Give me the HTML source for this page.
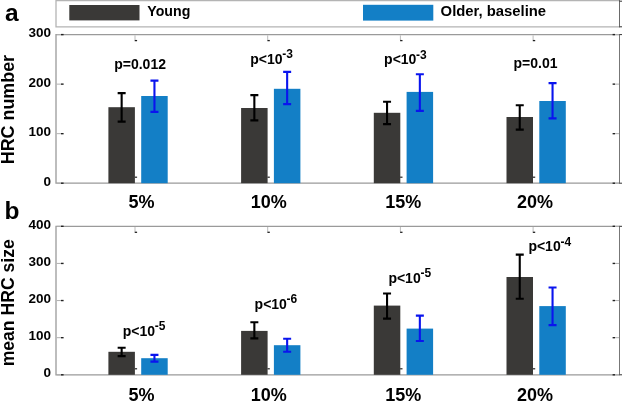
<!DOCTYPE html>
<html><head><meta charset="utf-8"><style>
html,body{margin:0;padding:0;background:#fff;width:622px;height:402px;overflow:hidden}
svg{display:block;will-change:transform}
text{font-family:"Liberation Sans", sans-serif;font-weight:bold;fill:#000}
</style></head><body>
<svg width="622" height="402" viewBox="0 0 622 402">
<rect width="622" height="402" fill="#fff"/>
<path d="M56 0.6 H619.5 M56 26.8 H619.5 M56 0 V27.4" stroke="#b4b4b4" stroke-width="1.3" fill="none"/>
<path d="M619.5 0 V27.4" stroke="#6a6a6a" stroke-width="1" fill="none"/>
<path d="M619.5 1.2 H622 M619.5 26.8 H622" stroke="#333" stroke-width="1" fill="none"/>
<rect x="69.3" y="5" width="70.2" height="15.4" fill="#3a3937"/>
<rect x="363" y="4.8" width="70.3" height="15.8" fill="#137fc6"/>
<text x="147.3" y="16" font-size="14" text-anchor="start" textLength="43" lengthAdjust="spacingAndGlyphs" >Young</text>
<text x="440.6" y="16" font-size="14" text-anchor="start" textLength="105.5" lengthAdjust="spacingAndGlyphs" >Older, baseline</text>
<path d="M56 34.6 H619.5 M56 183.2 H619.5 M56 34.0 V183.79999999999998" stroke="#9a9a9a" stroke-width="1.3" fill="none"/>
<path d="M619.5 34.1 V183.7" stroke="#777" stroke-width="1" fill="none"/>
<path d="M619.5 34.6 H622 M619.5 183.2 H622" stroke="#333" stroke-width="1" fill="none"/>
<text x="51" y="185.6" font-size="13.5" text-anchor="end" >0</text>
<line x1="56.6" y1="183.20" x2="61" y2="183.20" stroke="#b0b0b0" stroke-width="1"/>
<line x1="61" y1="183.20" x2="63.6" y2="183.20" stroke="#222" stroke-width="1.4"/>
<line x1="615" y1="183.20" x2="619" y2="183.20" stroke="#b0b0b0" stroke-width="1"/>
<line x1="612.6" y1="183.20" x2="615" y2="183.20" stroke="#222" stroke-width="1.4"/>
<text x="51" y="136.06666666666666" font-size="13.5" text-anchor="end" >100</text>
<line x1="56.6" y1="133.67" x2="61" y2="133.67" stroke="#b0b0b0" stroke-width="1"/>
<line x1="61" y1="133.67" x2="63.6" y2="133.67" stroke="#222" stroke-width="1.4"/>
<line x1="615" y1="133.67" x2="619" y2="133.67" stroke="#b0b0b0" stroke-width="1"/>
<line x1="612.6" y1="133.67" x2="615" y2="133.67" stroke="#222" stroke-width="1.4"/>
<text x="51" y="86.53333333333333" font-size="13.5" text-anchor="end" >200</text>
<line x1="56.6" y1="84.13" x2="61" y2="84.13" stroke="#b0b0b0" stroke-width="1"/>
<line x1="61" y1="84.13" x2="63.6" y2="84.13" stroke="#222" stroke-width="1.4"/>
<line x1="615" y1="84.13" x2="619" y2="84.13" stroke="#b0b0b0" stroke-width="1"/>
<line x1="612.6" y1="84.13" x2="615" y2="84.13" stroke="#222" stroke-width="1.4"/>
<text x="51" y="36.99999999999999" font-size="13.5" text-anchor="end" >300</text>
<line x1="56.6" y1="34.60" x2="61" y2="34.60" stroke="#b0b0b0" stroke-width="1"/>
<line x1="61" y1="34.60" x2="63.6" y2="34.60" stroke="#222" stroke-width="1.4"/>
<line x1="615" y1="34.60" x2="619" y2="34.60" stroke="#b0b0b0" stroke-width="1"/>
<line x1="612.6" y1="34.60" x2="615" y2="34.60" stroke="#222" stroke-width="1.4"/>
<line x1="135.00" y1="35.300000000000004" x2="135.00" y2="40.1" stroke="#bbb" stroke-width="1"/>
<line x1="134.70" y1="40.6" x2="137.10" y2="40.6" stroke="#222" stroke-width="1.3"/>
<line x1="134.70" y1="177.2" x2="137.10" y2="177.2" stroke="#222" stroke-width="1.2"/>
<line x1="267.70" y1="35.300000000000004" x2="267.70" y2="40.1" stroke="#bbb" stroke-width="1"/>
<line x1="267.40" y1="40.6" x2="269.80" y2="40.6" stroke="#222" stroke-width="1.3"/>
<line x1="267.40" y1="177.2" x2="269.80" y2="177.2" stroke="#222" stroke-width="1.2"/>
<line x1="400.40" y1="35.300000000000004" x2="400.40" y2="40.1" stroke="#bbb" stroke-width="1"/>
<line x1="400.10" y1="40.6" x2="402.50" y2="40.6" stroke="#222" stroke-width="1.3"/>
<line x1="400.10" y1="177.2" x2="402.50" y2="177.2" stroke="#222" stroke-width="1.2"/>
<line x1="533.10" y1="35.300000000000004" x2="533.10" y2="40.1" stroke="#bbb" stroke-width="1"/>
<line x1="532.80" y1="40.6" x2="535.20" y2="40.6" stroke="#222" stroke-width="1.3"/>
<line x1="532.80" y1="177.2" x2="535.20" y2="177.2" stroke="#222" stroke-width="1.2"/>
<rect x="108.40" y="107.2" width="26.5" height="76.00" fill="#3a3937"/>
<rect x="141.20" y="96.0" width="26.5" height="87.20" fill="#137fc6"/>
<path d="M121.65 93.1 V121.6 M117.65 93.1 H125.65 M117.65 121.6 H125.65" stroke="#000" stroke-width="2.1" fill="none"/>
<path d="M154.45 80.6 V111.9 M150.45 80.6 H158.45 M150.45 111.9 H158.45" stroke="#0a14ee" stroke-width="2.1" fill="none"/>
<rect x="241.10" y="108.0" width="26.5" height="75.20" fill="#3a3937"/>
<rect x="273.90" y="88.8" width="26.5" height="94.40" fill="#137fc6"/>
<path d="M254.35 95.1 V120.4 M250.35 95.1 H258.35 M250.35 120.4 H258.35" stroke="#000" stroke-width="2.1" fill="none"/>
<path d="M287.15 71.9 V104.1 M283.15 71.9 H291.15 M283.15 104.1 H291.15" stroke="#0a14ee" stroke-width="2.1" fill="none"/>
<rect x="373.80" y="112.8" width="26.5" height="70.40" fill="#3a3937"/>
<rect x="406.60" y="91.9" width="26.5" height="91.30" fill="#137fc6"/>
<path d="M387.05 101.8 V124.1 M383.05 101.8 H391.05 M383.05 124.1 H391.05" stroke="#000" stroke-width="2.1" fill="none"/>
<path d="M419.85 74.3 V110.9 M415.85 74.3 H423.85 M415.85 110.9 H423.85" stroke="#0a14ee" stroke-width="2.1" fill="none"/>
<rect x="506.50" y="117.0" width="26.5" height="66.20" fill="#3a3937"/>
<rect x="539.30" y="101.0" width="26.5" height="82.20" fill="#137fc6"/>
<path d="M519.75 105.2 V129.6 M515.75 105.2 H523.75 M515.75 129.6 H523.75" stroke="#000" stroke-width="2.1" fill="none"/>
<path d="M552.55 83.1 V118.4 M548.55 83.1 H556.55 M548.55 118.4 H556.55" stroke="#0a14ee" stroke-width="2.1" fill="none"/>
<text x="141.50" y="207.6" font-size="18" text-anchor="middle">5%</text>
<text x="268.70" y="207.6" font-size="18" text-anchor="middle">10%</text>
<text x="403.30" y="207.6" font-size="18" text-anchor="middle">15%</text>
<text x="535.00" y="207.6" font-size="18" text-anchor="middle">20%</text>
<text transform="translate(13.6 109.6) rotate(-90)" font-size="17.9" text-anchor="middle">HRC number</text>
<path d="M56 226.3 H619.5 M56 374.8 H619.5 M56 225.70000000000002 V375.40000000000003" stroke="#9a9a9a" stroke-width="1.3" fill="none"/>
<path d="M619.5 225.8 V375.3" stroke="#777" stroke-width="1" fill="none"/>
<path d="M619.5 226.3 H622 M619.5 374.8 H622" stroke="#333" stroke-width="1" fill="none"/>
<text x="51" y="377.2" font-size="13.5" text-anchor="end" >0</text>
<line x1="56.6" y1="374.80" x2="61" y2="374.80" stroke="#b0b0b0" stroke-width="1"/>
<line x1="61" y1="374.80" x2="63.6" y2="374.80" stroke="#222" stroke-width="1.4"/>
<line x1="615" y1="374.80" x2="619" y2="374.80" stroke="#b0b0b0" stroke-width="1"/>
<line x1="612.6" y1="374.80" x2="615" y2="374.80" stroke="#222" stroke-width="1.4"/>
<text x="51" y="340.075" font-size="13.5" text-anchor="end" >100</text>
<line x1="56.6" y1="337.68" x2="61" y2="337.68" stroke="#b0b0b0" stroke-width="1"/>
<line x1="61" y1="337.68" x2="63.6" y2="337.68" stroke="#222" stroke-width="1.4"/>
<line x1="615" y1="337.68" x2="619" y2="337.68" stroke="#b0b0b0" stroke-width="1"/>
<line x1="612.6" y1="337.68" x2="615" y2="337.68" stroke="#222" stroke-width="1.4"/>
<text x="51" y="302.95" font-size="13.5" text-anchor="end" >200</text>
<line x1="56.6" y1="300.55" x2="61" y2="300.55" stroke="#b0b0b0" stroke-width="1"/>
<line x1="61" y1="300.55" x2="63.6" y2="300.55" stroke="#222" stroke-width="1.4"/>
<line x1="615" y1="300.55" x2="619" y2="300.55" stroke="#b0b0b0" stroke-width="1"/>
<line x1="612.6" y1="300.55" x2="615" y2="300.55" stroke="#222" stroke-width="1.4"/>
<text x="51" y="265.825" font-size="13.5" text-anchor="end" >300</text>
<line x1="56.6" y1="263.43" x2="61" y2="263.43" stroke="#b0b0b0" stroke-width="1"/>
<line x1="61" y1="263.43" x2="63.6" y2="263.43" stroke="#222" stroke-width="1.4"/>
<line x1="615" y1="263.43" x2="619" y2="263.43" stroke="#b0b0b0" stroke-width="1"/>
<line x1="612.6" y1="263.43" x2="615" y2="263.43" stroke="#222" stroke-width="1.4"/>
<text x="51" y="228.70000000000002" font-size="13.5" text-anchor="end" >400</text>
<line x1="56.6" y1="226.30" x2="61" y2="226.30" stroke="#b0b0b0" stroke-width="1"/>
<line x1="61" y1="226.30" x2="63.6" y2="226.30" stroke="#222" stroke-width="1.4"/>
<line x1="615" y1="226.30" x2="619" y2="226.30" stroke="#b0b0b0" stroke-width="1"/>
<line x1="612.6" y1="226.30" x2="615" y2="226.30" stroke="#222" stroke-width="1.4"/>
<line x1="135.00" y1="227.0" x2="135.00" y2="231.8" stroke="#bbb" stroke-width="1"/>
<line x1="134.70" y1="232.3" x2="137.10" y2="232.3" stroke="#222" stroke-width="1.3"/>
<line x1="134.70" y1="368.8" x2="137.10" y2="368.8" stroke="#222" stroke-width="1.2"/>
<line x1="267.70" y1="227.0" x2="267.70" y2="231.8" stroke="#bbb" stroke-width="1"/>
<line x1="267.40" y1="232.3" x2="269.80" y2="232.3" stroke="#222" stroke-width="1.3"/>
<line x1="267.40" y1="368.8" x2="269.80" y2="368.8" stroke="#222" stroke-width="1.2"/>
<line x1="400.40" y1="227.0" x2="400.40" y2="231.8" stroke="#bbb" stroke-width="1"/>
<line x1="400.10" y1="232.3" x2="402.50" y2="232.3" stroke="#222" stroke-width="1.3"/>
<line x1="400.10" y1="368.8" x2="402.50" y2="368.8" stroke="#222" stroke-width="1.2"/>
<line x1="533.10" y1="227.0" x2="533.10" y2="231.8" stroke="#bbb" stroke-width="1"/>
<line x1="532.80" y1="232.3" x2="535.20" y2="232.3" stroke="#222" stroke-width="1.3"/>
<line x1="532.80" y1="368.8" x2="535.20" y2="368.8" stroke="#222" stroke-width="1.2"/>
<rect x="108.40" y="351.8" width="26.5" height="23.00" fill="#3a3937"/>
<rect x="141.20" y="358.2" width="26.5" height="16.60" fill="#137fc6"/>
<path d="M121.65 347.7 V356.1 M117.65 347.7 H125.65 M117.65 356.1 H125.65" stroke="#000" stroke-width="2.1" fill="none"/>
<path d="M154.45 354.9 V361.6 M150.45 354.9 H158.45 M150.45 361.6 H158.45" stroke="#0a14ee" stroke-width="2.1" fill="none"/>
<rect x="241.10" y="330.9" width="26.5" height="43.90" fill="#3a3937"/>
<rect x="273.90" y="345.2" width="26.5" height="29.60" fill="#137fc6"/>
<path d="M254.35 322.2 V338.4 M250.35 322.2 H258.35 M250.35 338.4 H258.35" stroke="#000" stroke-width="2.1" fill="none"/>
<path d="M287.15 338.7 V351.8 M283.15 338.7 H291.15 M283.15 351.8 H291.15" stroke="#0a14ee" stroke-width="2.1" fill="none"/>
<rect x="373.80" y="305.6" width="26.5" height="69.20" fill="#3a3937"/>
<rect x="406.60" y="328.6" width="26.5" height="46.20" fill="#137fc6"/>
<path d="M387.05 293.5 V318.6 M383.05 293.5 H391.05 M383.05 318.6 H391.05" stroke="#000" stroke-width="2.1" fill="none"/>
<path d="M419.85 315.6 V341.0 M415.85 315.6 H423.85 M415.85 341.0 H423.85" stroke="#0a14ee" stroke-width="2.1" fill="none"/>
<rect x="506.50" y="277.0" width="26.5" height="97.80" fill="#3a3937"/>
<rect x="539.30" y="306.1" width="26.5" height="68.70" fill="#137fc6"/>
<path d="M519.75 254.6 V298.7 M515.75 254.6 H523.75 M515.75 298.7 H523.75" stroke="#000" stroke-width="2.1" fill="none"/>
<path d="M552.55 287.5 V325.1 M548.55 287.5 H556.55 M548.55 325.1 H556.55" stroke="#0a14ee" stroke-width="2.1" fill="none"/>
<text x="141.50" y="401.2" font-size="18" text-anchor="middle">5%</text>
<text x="268.70" y="401.2" font-size="18" text-anchor="middle">10%</text>
<text x="403.30" y="401.2" font-size="18" text-anchor="middle">15%</text>
<text x="535.00" y="401.2" font-size="18" text-anchor="middle">20%</text>
<text transform="translate(14.0 302.8) rotate(-90)" font-size="17.6" text-anchor="middle">mean HRC size</text>
<text x="5" y="21" font-size="24.5">a</text>
<text x="4.5" y="219" font-size="24.5">b</text>
<text x="114.2" y="68.8" font-size="14">p=0.012</text>
<text x="250.3" y="63.6" font-size="14">p&lt;10<tspan font-size="12" dy="-5.6" dx="-0.3">-3</tspan></text>
<text x="384.1" y="64.2" font-size="14">p&lt;10<tspan font-size="12" dy="-5.6" dx="-0.3">-3</tspan></text>
<text x="513.5" y="68.2" font-size="14">p=0.01</text>
<text x="122.8" y="336.0" font-size="14">p&lt;10<tspan font-size="12" dy="-5.6" dx="-0.3">-5</tspan></text>
<text x="254.6" y="309.0" font-size="14">p&lt;10<tspan font-size="12" dy="-5.6" dx="-0.3">-6</tspan></text>
<text x="388.4" y="282.6" font-size="14">p&lt;10<tspan font-size="12" dy="-5.6" dx="-0.3">-5</tspan></text>
<text x="528.4" y="251.2" font-size="14">p&lt;10<tspan font-size="12" dy="-5.6" dx="-0.3">-4</tspan></text>
</svg>
</body></html>
